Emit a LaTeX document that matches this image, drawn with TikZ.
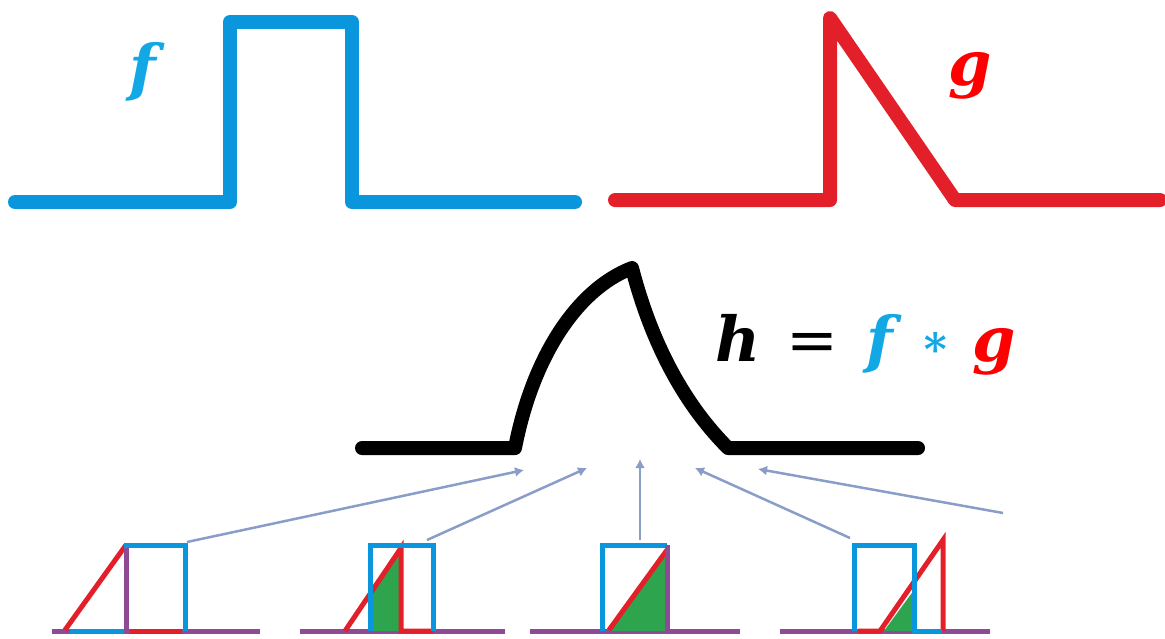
\documentclass[tikz,border=0pt]{standalone}
\usepackage{fontspec}
\usetikzlibrary{arrows.meta}
\newfontfamily\eqfont{DejaVu Serif}
\definecolor{fblue}{HTML}{0A96DC}
\definecolor{flight}{HTML}{12A8E6}
\definecolor{gred}{HTML}{E3202A}
\definecolor{spurple}{HTML}{8E4A94}
\definecolor{sgreen}{HTML}{2EA44F}
\definecolor{arrblue}{HTML}{8A9DC8}
\begin{document}
\begin{tikzpicture}[
    x=1pt, y=-1pt,
    fline/.style={draw=fblue, line width=14pt, line join=round, line cap=round},
    gline/.style={draw=gred, line width=14pt, line join=round, line cap=round},
    hline/.style={draw=black, line width=14pt, line join=round, line cap=round},
    base/.style={draw=spurple, line width=5pt},
    sbox/.style={draw=fblue, line width=5pt},
    stri/.style={draw=gred, line width=5pt},
    arr/.style={-{Latex[length=9pt,width=10pt]}, draw=arrblue, line width=2.5pt},
    lbl/.style={font=\eqfont\bfseries\itshape\fontsize{62}{70}\selectfont, inner sep=0pt}
]
    \useasboundingbox (0,0) rectangle (1165,638);

    % f and g
    \draw [fline] (15,202) -- (230,202) -- (230,22) -- (352,22) -- (352,202) -- (575,202);
    \draw [gline] (615,200) -- (830,200) -- (830,18) -- (955,200) -- (1160,200);
    \node [lbl, text=flight] (flabel) at (143,72) {f};
    \node [lbl, text=red] (glabel) at (970,76) {g};

    % h = f * g
    \draw [hline] (362,448) -- (515,448)
        .. controls (532,360) and (575,290) .. (632,268)
        .. controls (652,345) and (685,405) .. (728,448) -- (918,448);
    \node [lbl, anchor=west] (heq) at (715,345)
        {h\hspace{0.42em}\textcolor{black}{\mdseries\upshape=}\hspace{0.45em}\textcolor{flight}{f}\hspace{0.45em}\textcolor{flight}{\upshape\fontsize{44}{50}\selectfont\raisebox{0.12em}{∗}}\hspace{0.35em}\textcolor{red}{g}};

    % snapshot 1
    \draw [base] (52,631) -- (260,631);
    \draw [stri] (65,630) -- (126,545);
    \draw [sbox] (126,631) -- (126,545) -- (185,545) -- (185,631);
    \draw [draw=fblue, line width=5pt] (70,631) -- (124,631);
    \draw [draw=gred, line width=5pt] (130,631) -- (182,631);
    \draw [draw=spurple, line width=5pt] (126,548) -- (126,631);
    \coordinate (s1) at (187,542);

    % snapshot 2
    \draw [base] (300,631) -- (505,631);
    \fill [sgreen] (373,590) -- (401,550) -- (401,631) -- (373,631) -- cycle;
    \draw [stri] (345,631) -- (401,548) -- (401,631) -- (433,631);
    \draw [sbox] (370,631) -- (370,545) -- (433,545) -- (433,631);
    \coordinate (s2) at (427,540);

    % snapshot 3
    \draw [base] (530,631) -- (740,631);
    \fill [sgreen] (609,631) -- (667,550) -- (667,631) -- cycle;
    \draw [stri] (609,630) -- (667,550);
    \draw [sbox] (602,631) -- (602,545) -- (667,545);
    \draw [draw=spurple, line width=5pt] (667,545) -- (667,631);
    \coordinate (s3) at (640,540);

    % snapshot 4
    \draw [base] (780,631) -- (990,631);
    \fill [sgreen] (884,631) -- (914,590) -- (914,631) -- cycle;
    \draw [stri] (858,631) -- (880,631) -- (943,540) -- (943,631);
    \draw [sbox] (854,631) -- (854,545) -- (914,545) -- (914,631) -- (942,631);
    \coordinate (s4) at (850,538);
    \coordinate (s5) at (1003,513);

    % arrow targets
    \coordinate (t1) at (524,470);
    \coordinate (t2) at (587,468);
    \coordinate (t3) at (640,459);
    \coordinate (t4) at (695,468);
    \coordinate (t5) at (758,469);

    \draw [arr] (s1) -- (t1);
    \draw [arr] (s2) -- (t2);
    \draw [arr] (s3) -- (t3);
    \draw [arr] (s4) -- (t4);
    \draw [arr] (s5) -- (t5);
\end{tikzpicture}
\end{document}
